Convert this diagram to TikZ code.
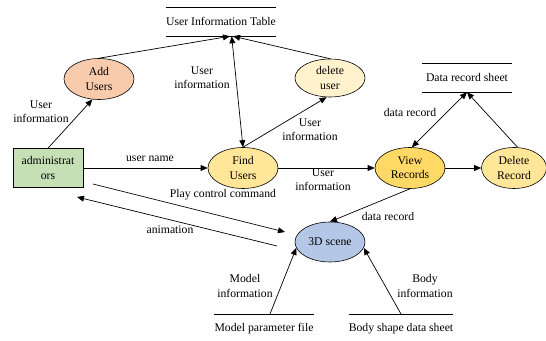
\documentclass[tikz,border=0pt]{standalone}
\usepackage{fontspec}
\setmainfont{Liberation Serif}
\usetikzlibrary{shapes.geometric,arrows.meta}

\definecolor{addfill}{HTML}{F8CBAD}
\definecolor{delfill}{HTML}{FFF2CC}
\definecolor{findfill}{HTML}{FFE699}
\definecolor{viewfill}{HTML}{FFD966}
\definecolor{scenefill}{HTML}{B4C7E7}
\definecolor{adminfill}{HTML}{C5E0B4}

\begin{document}
\begin{tikzpicture}[x=0.03cm,y=-0.03cm]
    \tikzstyle{every node}=[font=\fontsize{10}{12}\selectfont, text=black]
    \tikzstyle{proc}=[ellipse, draw=black, line width=0.5pt, align=center, minimum width=2.1cm, minimum height=1.23cm, inner sep=0pt]
    \tikzstyle{entity}=[rectangle, draw=black, line width=0.5pt, fill=adminfill, align=center, minimum width=2.1cm, minimum height=1.17cm, inner sep=0pt]
    \tikzstyle{store}=[minimum width=2.67cm, minimum height=0.84cm, inner sep=0pt, text height=8pt, text depth=2pt]
    \tikzstyle{src}=[anchor=north, minimum width=2.67cm, inner xsep=0pt, inner ysep=7pt, text height=8pt, text depth=2pt]
    \tikzstyle{lbl}=[align=center, inner sep=1pt]
    \tikzstyle{flow}=[-{Triangle[length=6pt,width=5pt]}, line width=0.6pt]
    \tikzstyle{both}=[{Triangle[length=6pt,width=5pt]}-{Triangle[length=6pt,width=5pt]}, line width=0.6pt]

    \useasboundingbox (0,0) rectangle (546,341);

    % data stores and sources
    \node[store] (uit) at (221,22) {User Information Table};
    \node[store] (drs) at (467,78) {Data record sheet};
    \node[src] (mpf) at (264,314) {Model parameter file};
    \node[src] (bsd) at (401,314) {Body shape data sheet};
    \foreach \s in {uit,drs}
        \draw[line width=0.6pt] (\s.north west) -- (\s.north east) (\s.south west) -- (\s.south east);
    \foreach \s in {mpf,bsd}
        \draw[line width=0.6pt] (\s.north west) -- (\s.north east);

    % processes
    \node[entity] (admin) at (48,168) {administrat\\ors};
    \node[proc, fill=addfill] (add) at (99,79) {Add\\Users};
    \node[proc, fill=delfill, minimum height=1.14cm] (del) at (330,78) {delete\\user};
    \node[proc, fill=findfill] (find) at (243,168) {Find\\Users};
    \node[proc, fill=viewfill] (view) at (410,168) {View\\Records};
    \node[proc, fill=findfill, minimum width=1.95cm] (delrec) at (514,168) {Delete\\Record};
    \node[proc, fill=scenefill, minimum height=1.2cm] (scene) at (330,242) {3D scene};

    \coordinate (playfrom) at (93,184);
    \coordinate (playto) at (285,232);
    \coordinate (animfrom) at (277,246);
    \coordinate (animto) at (77,197);

    % flows
    \draw[flow] (admin.north) -- (add.-108);
    \draw[flow] (add.north) -- ([xshift=0.27cm]uit.south);
    \draw[flow] (del.north) -- ([xshift=0.36cm]uit.south);
    \draw[both] (find.north) -- ([xshift=0.32cm]uit.south);
    \draw[flow] (find.north) -- (del.-100);
    \draw[flow] (admin.east) -- (find.west);
    \draw[flow] (find.east) -- (view.west);
    \draw[flow] (view.east) -- (delrec.west);
    \draw[both] (drs.south) -- (view.85);
    \draw[flow] (delrec.80) -- (drs.south);
    \draw[flow] (view.south) -- (scene.north);
    \draw[flow] (playfrom) -- (playto);
    \draw[flow] (animfrom) -- (animto);
    \draw[flow] ([xshift=0.18cm]mpf.north) -- (scene.190);
    \draw[flow] (bsd.north) -- (scene.-10);

    % flow labels
    \node[lbl] (l1) at (41,112) {User\\information};
    \node[lbl] (l2) at (202,78) {User\\information};
    \node[lbl] (l3) at (310,130) {User\\information};
    \node[lbl] (l4) at (323,180) {User\\information};
    \node[lbl] (l5) at (150,159) {user name};
    \node[lbl] (l6) at (410,112) {data record};
    \node[lbl] (l7) at (388,216) {data record};
    \node[lbl] (l8) at (223,195) {Play control command};
    \node[lbl] (l9) at (170,230) {animation};
    \node[lbl] (l10) at (245,286) {Model\\information};
    \node[lbl] (l11) at (425,286) {Body\\information};
\end{tikzpicture}
\end{document}
